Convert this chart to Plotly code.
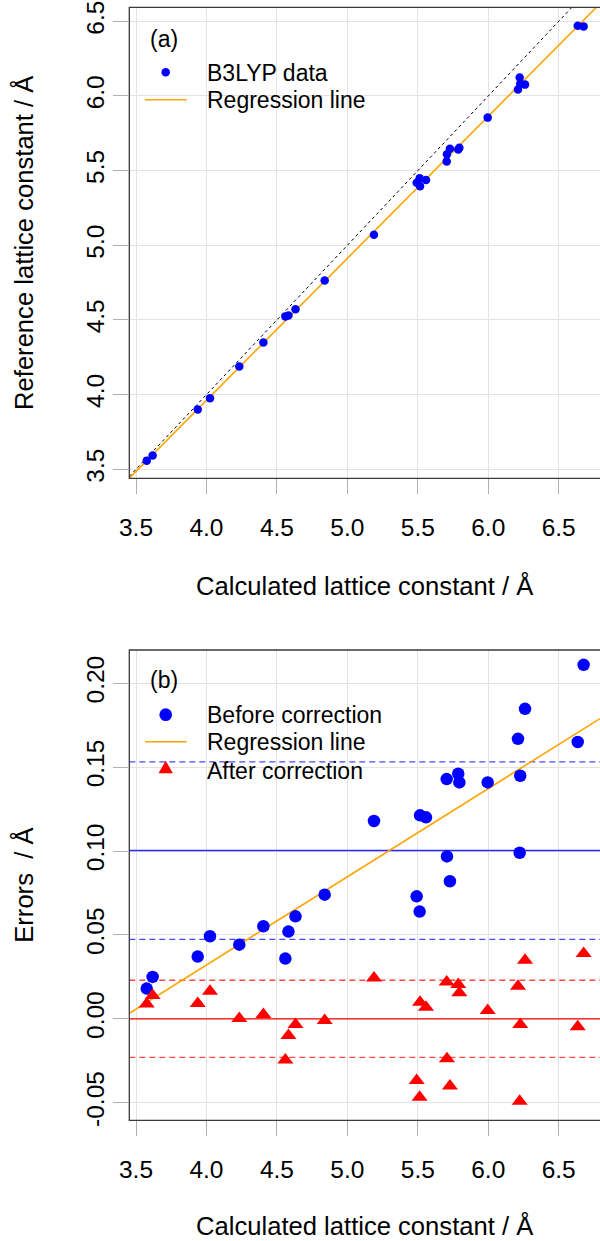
import plotly.graph_objects as go

W, H = 600, 1241

# ---------------- data ----------------
calc = [3.576, 3.618, 3.938, 4.025, 4.233, 4.404, 4.560, 4.582, 4.632, 4.839,
        5.189, 5.492, 5.513, 5.516, 5.558, 5.705, 5.707, 5.728, 5.787, 5.795,
        5.996, 6.211, 6.223, 6.227, 6.261, 6.635, 6.677]
ref = [3.558, 3.593, 3.901, 3.976, 4.189, 4.349, 4.524, 4.530, 4.571, 4.765,
       5.071, 5.419, 5.449, 5.395, 5.438, 5.562, 5.610, 5.646, 5.641, 5.654,
       5.855, 6.044, 6.124, 6.082, 6.076, 6.470, 6.466]
err_before = [0.0180, 0.0250, 0.0371, 0.0492, 0.0442, 0.0552, 0.0359, 0.0520, 0.0611, 0.0740,
              0.1179, 0.0730, 0.0639, 0.1213, 0.1201, 0.1429, 0.0968, 0.0820, 0.1461, 0.1409,
              0.1409, 0.1669, 0.0990, 0.1449, 0.1848, 0.1650, 0.2110]
err_after = [0.0089, 0.0139, 0.0091, 0.0164, 0.0002, 0.0026, -0.0246, -0.0099, -0.0034, -0.0010,
             0.0244, -0.0367, -0.0467, 0.0099, 0.0069, 0.0220, -0.0238, -0.0401, 0.0204, 0.0155,
             0.0049, 0.0194, -0.0491, -0.0034, 0.0349, -0.0048, 0.0389]

# regression lines (intercept, slope) and mean / sd levels
reg_top = [0.1565, 0.9512]
reg_bottom = [-0.1783, 0.05259]
mean_before, sd_before = 0.1003, 0.0529
mean_after, sd_after = 0.0, 0.0230

x_ticks = [3.5, 4.0, 4.5, 5.0, 5.5, 6.0, 6.5]
x_ticklabels = ["3.5", "4.0", "4.5", "5.0", "5.5", "6.0", "6.5"]
y1_ticks = [3.5, 4.0, 4.5, 5.0, 5.5, 6.0, 6.5]
y1_ticklabels = ["3.5", "4.0", "4.5", "5.0", "5.5", "6.0", "6.5"]
y2_ticks = [-0.05, 0.0, 0.05, 0.10, 0.15, 0.20]
y2_ticklabels = ["-0.05", "0.00", "0.05", "0.10", "0.15", "0.20"]

# ---------------- layout geometry ----------------
x_range = [3.4524, 6.7931]
y1_range = [3.4397, 6.5938]
y2_range = [-0.06049, 0.21985]
x_dom = [129.3 / W, 1.0]
y1_dom = [1 - 478.3 / H, 1 - 7.3 / H]
y2_dom = [1 - 1120.3 / H, 1 - 650.0 / H]

FONT = "Liberation Sans, Arial, Helvetica, sans-serif"
BLUE = "#0000FF"
RED = "#FF0000"
ORANGE = "#FFA500"

fig = go.Figure()

# ---- panel (a) ----
fig.add_trace(go.Scatter(x=x_range, y=x_range, mode="lines",
                         line=dict(color="black", width=1, dash="3px,3px"),
                         xaxis="x", yaxis="y", showlegend=False, hoverinfo="skip"))
fig.add_trace(go.Scatter(x=x_range, y=[reg_top[0] + reg_top[1] * v for v in x_range],
                         mode="lines", line=dict(color=ORANGE, width=1.6),
                         xaxis="x", yaxis="y", showlegend=False))
fig.add_trace(go.Scatter(x=calc, y=ref, mode="markers",
                         marker=dict(color=BLUE, size=8.5, line=dict(width=0)),
                         xaxis="x", yaxis="y", name="B3LYP data", showlegend=False))

# ---- panel (b) ----
for val, col, dash, wd in [
    (mean_before, "#2828FF", "solid", 1.4),
    (mean_before + sd_before, "#4848FF", "6px,4px", 1.3),
    (mean_before - sd_before, "#4848FF", "6px,4px", 1.3),
    (mean_after, "#FF0000", "solid", 1.3),
    (mean_after + sd_after, "#FF4848", "6px,4px", 1.3),
    (mean_after - sd_after, "#FF4848", "6px,4px", 1.3),
]:
    fig.add_trace(go.Scatter(x=x_range, y=[val, val], mode="lines",
                             line=dict(color=col, width=wd, dash=dash),
                             xaxis="x2", yaxis="y2", showlegend=False, hoverinfo="skip"))
fig.add_trace(go.Scatter(x=x_range, y=[reg_bottom[0] + reg_bottom[1] * v for v in x_range],
                         mode="lines", line=dict(color=ORANGE, width=1.6),
                         xaxis="x2", yaxis="y2", showlegend=False))
fig.add_trace(go.Scatter(x=calc, y=err_before, mode="markers",
                         marker=dict(color=BLUE, size=12.5, line=dict(width=0)),
                         xaxis="x2", yaxis="y2", name="Before correction", showlegend=False))
fig.add_trace(go.Scatter(x=calc, y=err_after, mode="markers",
                         marker=dict(color=RED, size=14, symbol="triangle-up", line=dict(width=0)),
                         xaxis="x2", yaxis="y2", name="After correction", showlegend=False))

axis_common = dict(
    showline=False, zeroline=False, showgrid=True, gridcolor="#E3E3E3", gridwidth=1,
    ticks="outside", ticklen=15, tickwidth=1, tickcolor="#B0B0B0",
    tickfont=dict(family=FONT, size=24.5, color="black"), automargin=False,
)

title_font = dict(family=FONT, size=25.6, color="black")

fig.update_layout(
    width=W, height=H, autosize=False,
    margin=dict(l=0, r=0, t=0, b=0, pad=0),
    paper_bgcolor="white", plot_bgcolor="white",
    font=dict(family=FONT, color="black"),
    showlegend=False,
    xaxis=dict(domain=x_dom, range=x_range, anchor="y", tickmode="array",
               tickvals=x_ticks, ticktext=x_ticklabels, ticklabelstandoff=12,
               title=dict(text="Calculated lattice constant / Å", font=title_font, standoff=37),
               **axis_common),
    yaxis=dict(domain=y1_dom, range=y1_range, anchor="x", tickmode="array",
               tickvals=y1_ticks, ticktext=y1_ticklabels, tickangle=-90, ticklabelstandoff=0,
               title=dict(text="Reference lattice constant / Å", font=title_font, standoff=40),
               **axis_common),
    xaxis2=dict(domain=x_dom, range=x_range, anchor="y2", tickmode="array",
                tickvals=x_ticks, ticktext=x_ticklabels, ticklabelstandoff=12,
                title=dict(text="Calculated lattice constant / Å", font=title_font, standoff=35),
                **axis_common),
    yaxis2=dict(domain=y2_dom, range=y2_range, anchor="x2", tickmode="array",
                tickvals=y2_ticks, ticktext=y2_ticklabels, tickangle=-90, ticklabelstandoff=0,
                title=dict(text="Errors\u00a0 / Å", font=title_font, standoff=40),
                **axis_common),
)

# frames (right side runs off the canvas like the reference)
for xr, yr in [("x domain", "y domain"), ("x2 domain", "y2 domain")]:
    fig.add_shape(type="rect", xref=xr, yref=yr, x0=0, x1=1.05, y0=0, y1=1,
                  line=dict(color="#3A3A3A", width=1.3), fillcolor="rgba(0,0,0,0)", layer="above")


# ---------------- legends (drawn in pixel space) ----------------
def px(xp):
    return xp / W


def py(yp):
    return 1 - yp / H


LEG = 23


def legend_text(txt, xp, yp):
    fig.add_annotation(text=txt, xref="paper", yref="paper", x=px(xp), y=py(yp),
                       xanchor="left", yanchor="middle", showarrow=False,
                       font=dict(family=FONT, size=LEG, color="black"))


def legend_dot(xc, yc, d, col):
    fig.add_shape(type="circle", xref="paper", yref="paper",
                  x0=px(xc - d / 2), x1=px(xc + d / 2), y0=py(yc + d / 2), y1=py(yc - d / 2),
                  fillcolor=col, line=dict(width=0))


def legend_line(x0, x1, yc, col):
    fig.add_shape(type="line", xref="paper", yref="paper", x0=px(x0), x1=px(x1),
                  y0=py(yc), y1=py(yc), line=dict(color=col, width=1.6))


def legend_tri(xc, yc, w, col):
    h = w * 0.866
    path = "M {:.5f},{:.5f} L {:.5f},{:.5f} L {:.5f},{:.5f} Z".format(
        px(xc - w / 2), py(yc + h / 3), px(xc + w / 2), py(yc + h / 3), px(xc), py(yc - 2 * h / 3))
    fig.add_shape(type="path", xref="paper", yref="paper", path=path,
                  fillcolor=col, line=dict(width=0))


# panel (a)
fig.add_annotation(text="(a)", xref="paper", yref="paper", x=px(163.5), y=py(39),
                   xanchor="center", yanchor="middle", showarrow=False,
                   font=dict(family=FONT, size=LEG, color="black"))
legend_dot(165.7, 72.3, 8.5, BLUE)
legend_text("B3LYP data", 205, 72.5)
legend_line(145, 186.7, 99.7, ORANGE)
legend_text("Regression line", 205, 100)

# panel (b)
fig.add_annotation(text="(b)", xref="paper", yref="paper", x=px(164.3), y=py(679.7),
                   xanchor="center", yanchor="middle", showarrow=False,
                   font=dict(family=FONT, size=LEG, color="black"))
legend_dot(165.7, 714.7, 12.7, BLUE)
legend_text("Before correction", 205, 715)
legend_line(145, 186.7, 741.7, ORANGE)
legend_text("Regression line", 205, 742.3)
legend_tri(165.7, 769, 14.3, RED)
legend_text("After correction", 205, 770.7)

fig.write_html("out.html")
